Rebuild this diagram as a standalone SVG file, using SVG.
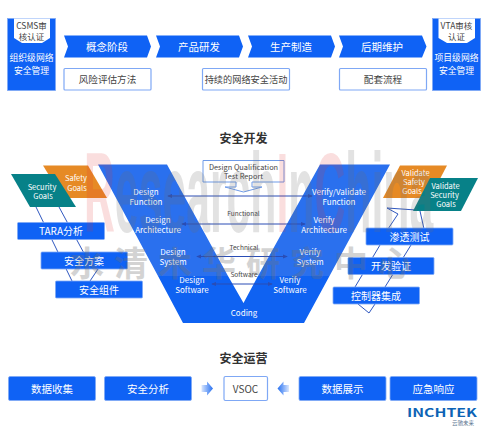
<svg xmlns="http://www.w3.org/2000/svg" width="488" height="426" viewBox="0 0 488 426">
<style>
text{font-family:"Noto Sans CJK SC","Noto Sans",sans-serif;text-anchor:middle}
.b{fill:#0f62f5;stroke:#7fa8f5;stroke-width:.8}
.w{fill:#fff;stroke:#7fa8f5;stroke-width:1.2}
.tw{fill:#fff}
.td{fill:#444}
.l{fill:none;stroke:#3058c0;stroke-width:1}
.a{fill:none;stroke:#2a4db5;stroke-width:1;marker-start:url(#ah);marker-end:url(#ah)}
</style>
<defs>
<marker id="ah" viewBox="0 0 6 6" refX="5" refY="3" markerWidth="5" markerHeight="5" orient="auto-start-reverse" markerUnits="userSpaceOnUse"><path d="M0,0.5L6,3L0,5.5z" fill="#2a4db5"/></marker>
<linearGradient id="gr"><stop offset="0" stop-color="#0f62f5" stop-opacity=".15"/><stop offset="1" stop-color="#2a72f0"/></linearGradient>
<linearGradient id="gl"><stop offset="0" stop-color="#2a72f0"/><stop offset="1" stop-color="#0f62f5" stop-opacity=".15"/></linearGradient>
</defs>

<g id="csms"><rect x="7.5" y="18.5" width="48" height="72" fill="#0f62f5" stroke="#7fa8f5" stroke-width=".8"/><path d="M14,18.5H50V38L42,43H22L14,38z" fill="#fff"/>
<text x="31.5" y="28.500" font-size="8.500" class="td">CSMS审</text><text x="31.5" y="40" font-size="8.500" class="td">核认证</text>
<text x="31.500" y="61" font-size="8.800" class="tw">组织级网络</text><text x="31.500" y="73.500" font-size="8.800" class="tw">安全管理</text></g>
<g id="vta"><rect x="432.500" y="18.500" width="48" height="72" fill="#0f62f5" stroke="#7fa8f5" stroke-width=".8"/><path d="M438.500,18.500H475V38L467,43H447L438.500,38z" fill="#fff"/>
<text x="456.500" y="28.500" font-size="8.500" class="td">VTA审核</text><text x="456.500" y="40" font-size="8.500" class="td">认证</text>
<text x="456.500" y="61" font-size="8.800" class="tw">项目级网络</text><text x="456.500" y="73.500" font-size="8.800" class="tw">安全管理</text></g>

<g id="p1"><path d="M64,35.500H147L151,46.500L147,57.500H64L68,46.500z" fill="#0f62f5"/><text x="107" y="50.500" font-size="10.500" class="tw">概念阶段</text></g>
<g id="p2"><path d="M156,35.500H239L243,46.500L239,57.500H156L160,46.500z" fill="#0f62f5"/><text x="199" y="50.500" font-size="10.500" class="tw">产品研发</text></g>
<g id="p3"><path d="M248,35.500H331L335,46.500L331,57.500H248L252,46.500z" fill="#0f62f5"/><text x="291" y="50.500" font-size="10.500" class="tw">生产制造</text></g>
<g id="p4"><path d="M339,35.500H422L426.500,46.500L422,57.500H339L343,46.500z" fill="#0f62f5"/><text x="382" y="50.500" font-size="10.500" class="tw">后期维护</text></g>

<g id="a1"><rect x="64" y="68.500" width="87" height="21.500" rx="1" class="w"/><text x="107.500" y="82.500" font-size="9.600" class="td">风险评估方法</text></g>
<g id="a2"><rect x="202.500" y="68.500" width="87" height="21.500" rx="1" class="w"/><text x="246" y="82.500" font-size="9.200" class="td">持续的网络安全活动</text></g>
<g id="a3"><rect x="339.500" y="68.500" width="87" height="21.500" rx="1" class="w"/><text x="383" y="82.500" font-size="9.600" class="td">配套流程</text></g>

<text id="title1" x="243.500" y="143" font-size="12" font-weight="700" fill="#333">安全开发</text>

<g id="v"><path d="M98,164.500H167L228,276H258L320,164.500H390L329.500,276H158z" fill="#2a70ee"/><path d="M158,276H228L243.500,303L258,276H329.500L304,323H183z" fill="#0f62f2"/>
<text x="146" y="195" font-size="8" class="tw">Design</text><text x="146" y="205" font-size="8" class="tw">Function</text>
<text x="158" y="223" font-size="8" class="tw">Design</text><text x="158" y="233" font-size="8" class="tw">Architecture</text>
<text x="173" y="255" font-size="8" class="tw">Design</text><text x="173" y="265" font-size="8" class="tw">System</text>
<text x="192" y="283" font-size="8" class="tw">Design</text><text x="192" y="293" font-size="8" class="tw">Software</text>
<text x="244" y="316" font-size="8" class="tw">Coding</text>
<text x="339" y="195" font-size="8" class="tw">Verify/Validate</text><text x="339" y="205" font-size="8" class="tw">Function</text>
<text x="324" y="223" font-size="8" class="tw">Verify</text><text x="324" y="233" font-size="8" class="tw">Architecture</text>
<text x="310" y="255" font-size="8" class="tw">Verify</text><text x="310" y="265" font-size="8" class="tw">System</text>
<text x="290" y="283" font-size="8" class="tw">Verify</text><text x="290" y="293" font-size="8" class="tw">Software</text></g>

<g id="report"><path d="M203,160.500H284V182H252V187H262L243.500,192L225,187H236V182H203z" fill="#fff" stroke="#6f9be8"/><text x="243.500" y="169.500" font-size="7.400" class="td">Design Qualification</text><text x="243.500" y="178.500" font-size="7.400" class="td">Test Report</text></g>

<g id="connectors">
<path class="a" d="M168,196H312"/><path class="a" d="M182,224H305"/><path class="a" d="M197,256.500H287"/><path class="a" d="M212,284H272"/>
<path class="l" d="M36,207L72,281"/><path class="l" d="M59,207L92,268L98,269L90,281"/>
<path class="l" d="M387,208L398,214L388,229"/><path class="l" d="M387,208L416,210"/><path class="l" d="M420,211L424,229"/>
<path class="l" d="M380,245L355,287"/><path class="l" d="M411,245L385,287"/><path class="l" d="M358,304L369,313L375,304"/>
</g>
<text x="243.500" y="216" font-size="6.500" class="td">Functional</text><text x="244" y="250" font-size="6.500" class="td">Technical</text><text x="244" y="276.500" font-size="6.500" class="td">Software</text>

<g id="safety"><path d="M43,165.500H88L107,198H63z" fill="#e68a25"/><text x="76" y="181" font-size="7.500" fill="#fff">Safety</text><text x="77" y="190.500" font-size="7.500" fill="#fff">Goals</text></g>
<g id="security"><path d="M11,174H55L76,207H30z" fill="#078188"/><text x="42" y="190" font-size="7.500" class="tw">Security</text><text x="43" y="199" font-size="7.500" class="tw">Goals</text></g>
<g id="vsafety"><path d="M400,165.500H447L430,198H383z" fill="#e68a25"/><text x="415.500" y="176" font-size="7.500" class="tw">Validate</text><text x="414" y="185" font-size="7.500" class="tw">Safety</text><text x="412" y="194" font-size="7.500" class="tw">Goals</text></g>
<g id="vsecurity"><path d="M430,178H478L461,211H413z" fill="#078188"/><text x="445.500" y="189" font-size="7.500" class="tw">Validate</text><text x="444.500" y="198" font-size="7.500" class="tw">Security</text><text x="446" y="207" font-size="7.500" class="tw">Goals</text></g>

<g id="l1"><rect x="17.500" y="222.500" width="87" height="17" rx="1" class="b"/><text x="61" y="235" font-size="10" class="tw">TARA分析</text></g>
<g id="l2"><rect x="41" y="252" width="86.500" height="17" rx="1" class="b"/><text x="84" y="264.500" font-size="10" class="tw">安全方案</text></g>
<g id="l3"><rect x="55.500" y="281" width="87" height="17" rx="1" class="b"/><text x="99" y="293.500" font-size="10" class="tw">安全组件</text></g>
<g id="r1"><rect x="366" y="228" width="87" height="17" rx="1" class="b"/><text x="409.500" y="240.500" font-size="10" class="tw">渗透测试</text></g>
<g id="r2"><rect x="348" y="257.500" width="86" height="17" rx="1" class="b"/><text x="391" y="270" font-size="10" class="tw">开发验证</text></g>
<g id="r3"><rect x="333" y="287" width="86.500" height="17" rx="1" class="b"/><text x="376" y="299.500" font-size="10" class="tw">控制器集成</text></g>

<text id="title2" x="243.500" y="363" font-size="12" font-weight="700" fill="#333">安全运营</text>
<g id="o1"><rect x="8.500" y="376.500" width="87" height="24" rx="1.500" class="b"/><text x="52" y="392.500" font-size="10.500" class="tw">数据收集</text></g>
<g id="o2"><rect x="104.500" y="376.500" width="87" height="24" rx="1.500" class="b"/><text x="148" y="392.500" font-size="10.500" class="tw">安全分析</text></g>
<g id="vsoc"><rect x="224" y="376.500" width="43.500" height="24" rx="1.500" class="w"/><text x="245.500" y="392.500" font-size="10" class="td">VSOC</text></g>
<g id="o3"><rect x="299" y="376.500" width="87" height="24" rx="1.500" class="b"/><text x="342.500" y="392.500" font-size="10.500" class="tw">数据展示</text></g>
<g id="o4"><rect x="390" y="376.500" width="87" height="24" rx="1.500" class="b"/><text x="433.500" y="392.500" font-size="10.500" class="tw">应急响应</text></g>
<path id="arrow1" d="M201.500,385H207V381.500L213,388.500L207,395.500V392H201.500z" fill="url(#gr)"/>
<path id="arrow2" d="M289,385H283.500V381.500L277.500,388.500L283.500,395.500V392H289z" fill="url(#gl)"/>

<g id="logo"><text x="442" y="417" font-size="11" font-weight="700" textLength="70" lengthAdjust="spacingAndGlyphs" fill="#0d63b5">INCHTEK</text><text x="463" y="424.500" font-size="5.500" fill="#5d7690">云驰未来</text></g>

<g id="watermark">
<text transform="translate(84,232) scale(.375,1)" font-size="114" font-weight="700" style="font-family:'Liberation Sans',sans-serif;text-anchor:start" fill="#707070" fill-opacity=".2"><tspan fill="#e03030" fill-opacity=".16">R</tspan>esearch<tspan fill="#e03030" fill-opacity=".16">I</tspan>n<tspan fill="#e03030" fill-opacity=".16">C</tspan>hina</text>
<text x="87 131 175 219 263 307 351 395" y="276" font-size="34" font-weight="700" fill="#707070" opacity=".3">水清木华研究中心</text>
</g>
</svg>
